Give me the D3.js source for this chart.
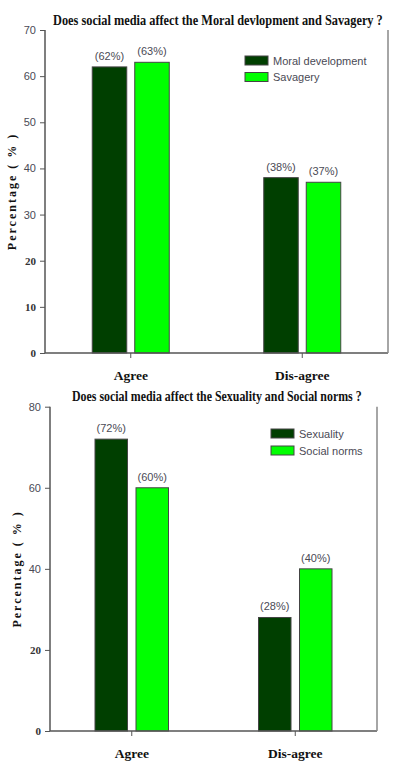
<!DOCTYPE html>
<html><head><meta charset="utf-8">
<script src="https://cdn.jsdelivr.net/npm/d3@7"></script>
<style>body{margin:0;background:#fff}svg{display:block}</style>
</head><body>
<svg id="c" width="394" height="770"></svg>
<script>
const categories = ["Agree", "Dis-agree"];
const series1Names = ["Moral development", "Savagery"];
const moralValues = [62, 38];
const savageryValues = [63, 37];
const series2Names = ["Sexuality", "Social norms"];
const sexualityValues = [72, 28];
const socialNormsValues = [60, 40];
const ticks1 = [0, 10, 20, 30, 40, 50, 60, 70];
const ticks2 = [0, 20, 40, 60, 80];
const title1 = "Does social media affect the Moral devlopment and Savagery ?";
const title2 = "Does social media affect the Sexuality and Social norms ?";
const colors = ["#003f00", "#00ff00"];

const svg = d3.select("#c");

function chart(cfg) {
  const g = svg.append("g");
  const x = d3.scaleBand().domain(categories).range([cfg.left, cfg.right]);
  const y = d3.scaleLinear().domain([0, cfg.max]).range([cfg.bottom, cfg.top]);
  const inner = d3.scaleBand().domain([0, 1]).range([0, cfg.barW * 2 + cfg.gap]).paddingInner(cfg.gap / (cfg.barW + cfg.gap));
  const data = [];
  categories.forEach((c, i) => cfg.series.forEach((s, j) => data.push({c, j, v: s[i]})));
  const bx = d => x(d.c) + x.bandwidth() / 2 - (cfg.barW * 2 + cfg.gap) / 2 + inner(d.j);

  g.selectAll("rect.bar").data(data).join("rect")
    .attr("x", bx)
    .attr("width", inner.bandwidth())
    .attr("y", d => y(d.v))
    .attr("height", d => y(0) - y(d.v))
    .attr("fill", d => colors[d.j])
    .attr("stroke", "#444").attr("stroke-width", 1);

  g.selectAll("text.val").data(data).join("text")
    .attr("x", d => bx(d) + inner.bandwidth() / 2)
    .attr("y", d => y(d.v) - 7)
    .attr("text-anchor", "middle")
    .attr("font-family", "Liberation Sans, Arial, sans-serif")
    .attr("font-size", 11).attr("fill", "#4a4a55")
    .text(d => "(" + d.v + "%)");

  g.append("line").attr("x1", cfg.left).attr("x2", cfg.left).attr("y1", cfg.top).attr("y2", cfg.bottom).attr("stroke", "#555").attr("stroke-width", 1.5);
  g.append("line").attr("x1", cfg.left).attr("x2", cfg.right).attr("y1", cfg.bottom).attr("y2", cfg.bottom).attr("stroke", "#555").attr("stroke-width", 1.5);
  g.append("line").attr("x1", cfg.right).attr("x2", cfg.right).attr("y1", cfg.top).attr("y2", cfg.bottom).attr("stroke", "#888").attr("stroke-width", 1.5);

  const ya = g.append("g").attr("transform", `translate(${cfg.left},0)`)
    .call(d3.axisLeft(y).tickValues(cfg.ticks).tickSize(5).tickSizeOuter(0).tickPadding(4));
  ya.select(".domain").remove();
  ya.selectAll("line").attr("stroke", "#555");
  ya.selectAll("text")
    .attr("font-family", d => d <= cfg.serifBelow ? "Liberation Serif, serif" : "Liberation Sans, Arial, sans-serif")
    .attr("font-weight", d => d <= cfg.serifBelow ? "bold" : "normal")
    .attr("font-size", 11).attr("fill", d => d <= cfg.serifBelow ? "#333" : "#4a4a55");

  const xa = g.append("g").attr("transform", `translate(0,${cfg.bottom})`)
    .call(d3.axisBottom(x).tickSize(5).tickSizeOuter(0).tickPadding(12));
  xa.select(".domain").remove();
  xa.selectAll("line").attr("stroke", "#555");
  xa.selectAll("text").attr("font-family", "Liberation Serif, serif").attr("font-weight", "bold")
    .attr("font-size", 13.5).attr("fill", "#111");

  // title, horizontally condensed to the reference width
  const tg = g.append("g");
  const tt = tg.append("text").attr("x", 0).attr("y", 0)
    .attr("font-family", "Liberation Serif, serif").attr("font-weight", "bold").attr("font-size", 14.5)
    .attr("fill", "#111").text(cfg.title);
  const nat = tt.node().getComputedTextLength();
  tg.attr("transform", `translate(${cfg.titleX},${cfg.titleY}) scale(${cfg.titleW / nat},1)`);

  g.append("text")
    .attr("transform", `translate(${cfg.ylabX},${(cfg.top + cfg.bottom) / 2}) rotate(-90)`)
    .attr("text-anchor", "middle")
    .attr("font-family", "Liberation Serif, serif").attr("font-weight", "bold").attr("font-size", 12)
    .attr("letter-spacing", 2).attr("fill", "#111")
    .text("Percentage ( % )");

  cfg.names.forEach((n, j) => {
    g.append("rect").attr("x", cfg.legX).attr("y", cfg.legY + j * cfg.legStep)
      .attr("width", 23).attr("height", 9).attr("fill", colors[j]).attr("stroke", "#444");
    g.append("text").attr("x", cfg.legX + 28).attr("y", cfg.legY + j * cfg.legStep + 8.5)
      .attr("font-family", "Liberation Sans, Arial, sans-serif").attr("font-size", 11)
      .attr("fill", "#4a4a55").text(n);
  });
}

chart({left: 45, right: 388, top: 30, bottom: 353, max: 70, ticks: ticks1, serifBelow: 20,
  barW: 34.5, gap: 8, series: [moralValues, savageryValues], names: series1Names,
  title: title1, titleX: 53, titleY: 24.5, titleW: 330, ylabX: 16,
  legX: 245, legY: 56, legStep: 16.5});

chart({left: 50, right: 377, top: 406.7, bottom: 731, max: 80, ticks: ticks2, serifBelow: 20,
  barW: 32.5, gap: 8.5, series: [sexualityValues, socialNormsValues], names: series2Names,
  title: title2, titleX: 72, titleY: 401, titleW: 290, ylabX: 21,
  legX: 271, legY: 429, legStep: 17});
</script>
</body></html>
